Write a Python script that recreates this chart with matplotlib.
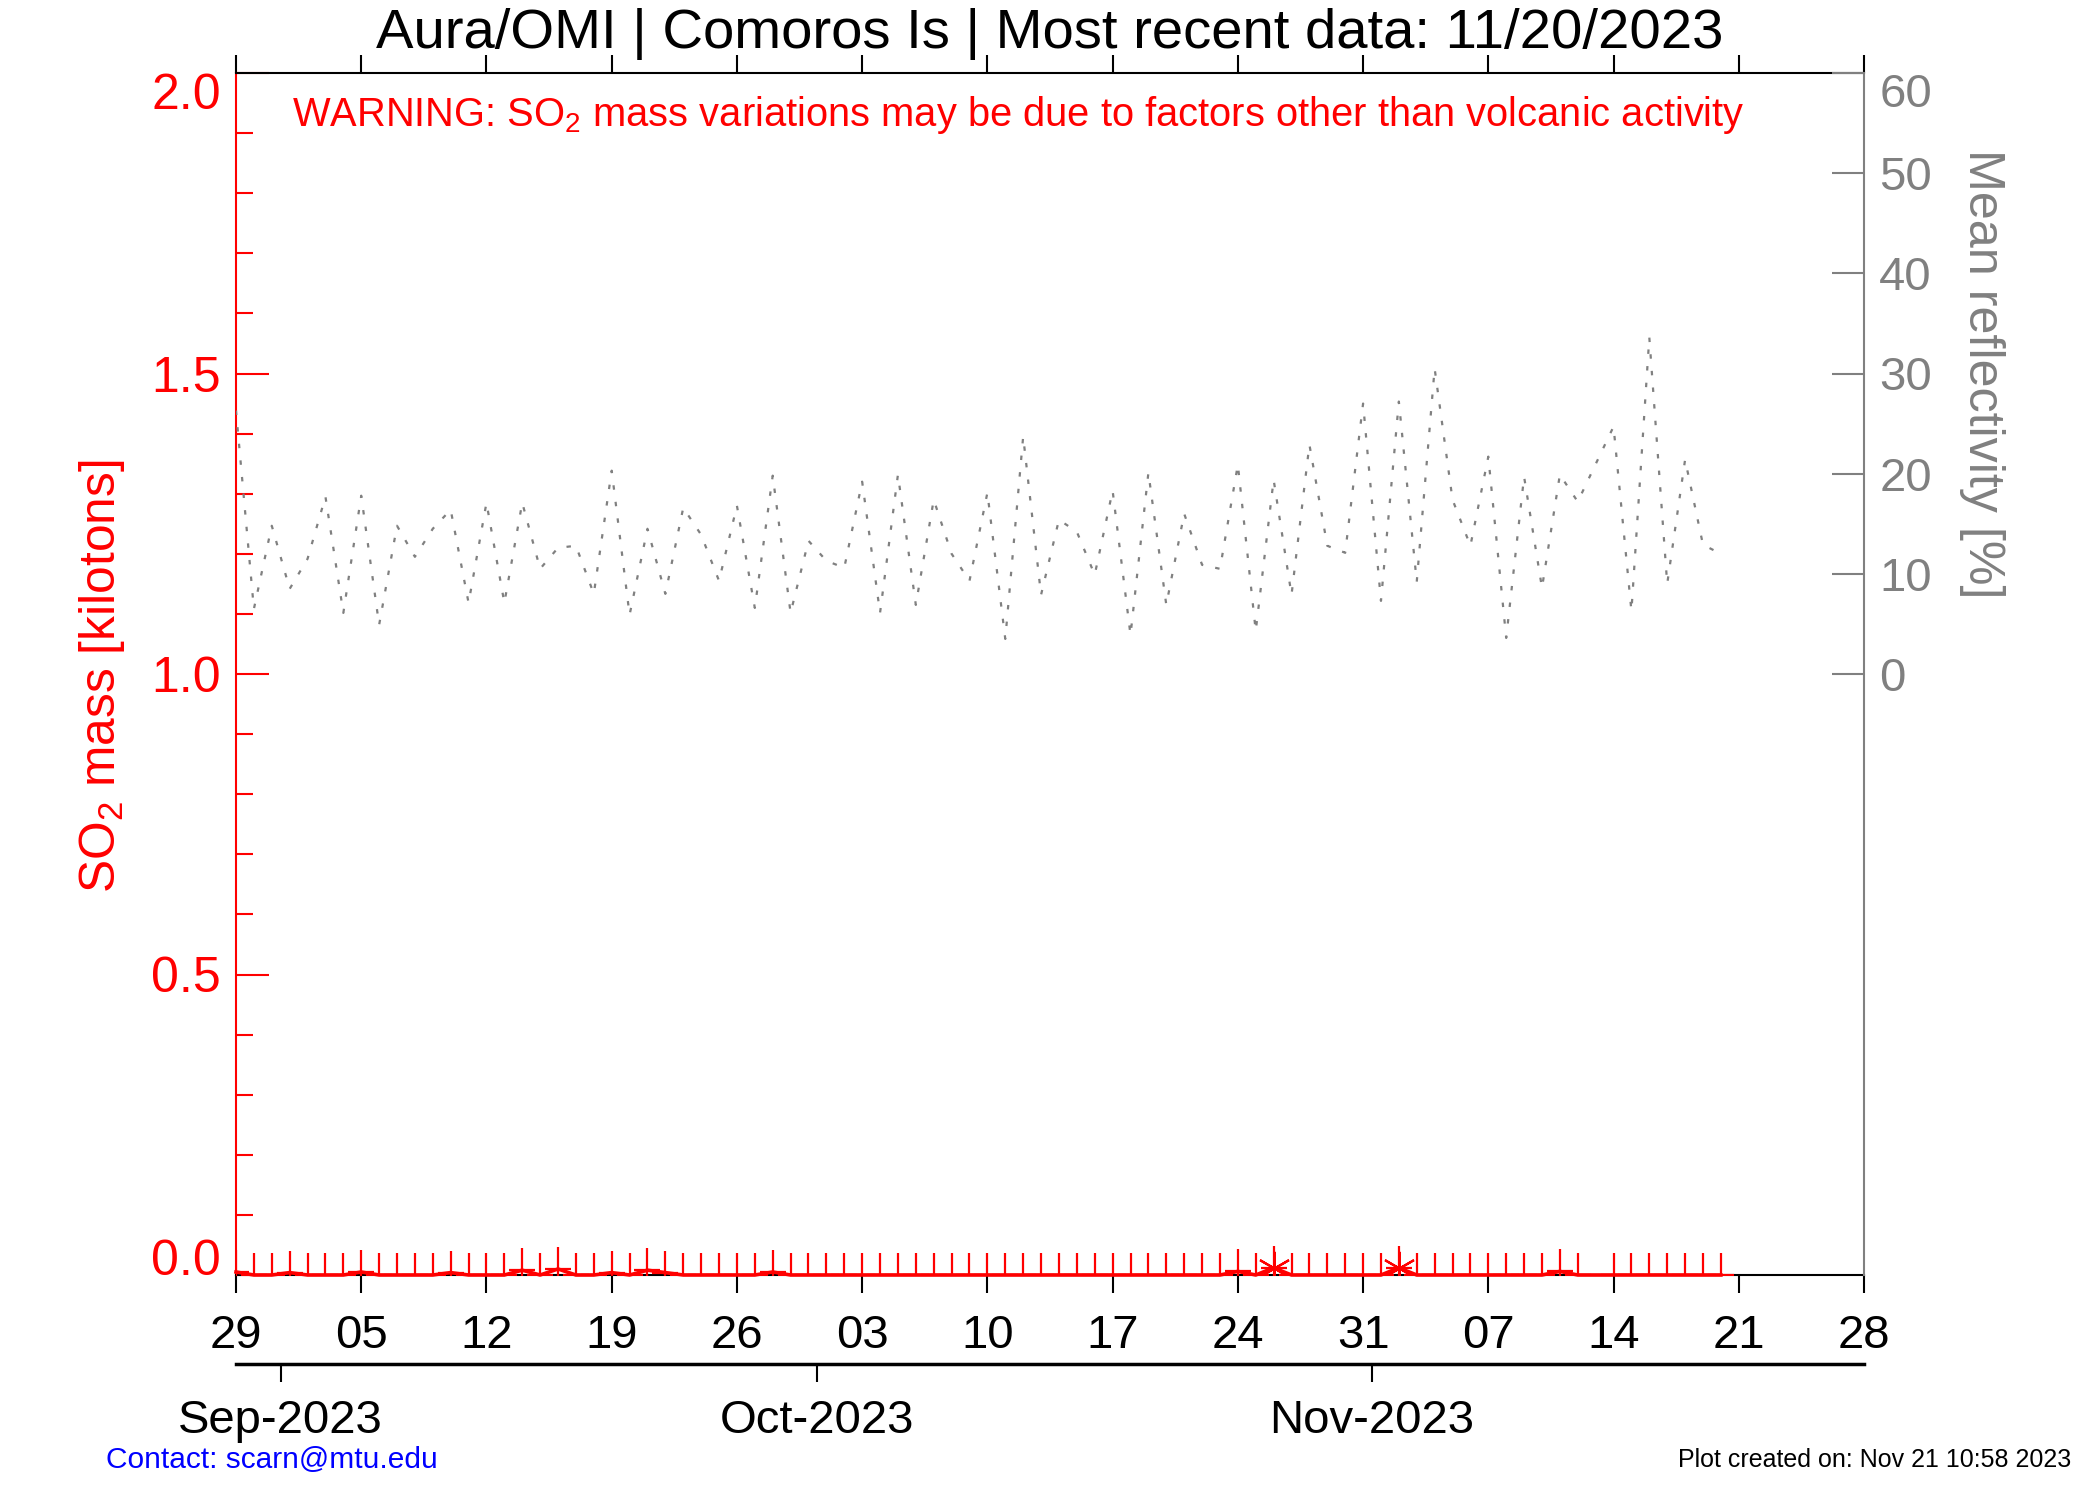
import numpy as np
import matplotlib
matplotlib.use("Agg")
import matplotlib.pyplot as plt
from matplotlib.path import Path
from matplotlib.ticker import MultipleLocator

plt.rcParams["font.family"] = ["Liberation Sans", "DejaVu Sans"]
plt.rcParams["mathtext.default"] = "regular"

# ---- data (one value per day from 2023-08-29, None = no data) ----
start_day = np.datetime64("2023-08-29")
x_range = [np.datetime64("2023-08-29"), np.datetime64("2023-11-28")]

reflectivity = [
    26.3, 6.5, 14.8, 8.5, 11.5, 17.7, 6.1, 17.8, 4.9, 14.8,
    11.7, 14.5, 16.4, 7.1, 17.1, 7.1, 17.1, 10.5, 12.6, 12.8,
    8.0, 20.3, 5.9, 14.5, 8.0, 16.6, 13.9, 9.3, 16.8, 6.6,
    19.8, 6.1, 13.3, 11.3, 10.6, 19.2, 6.1, 19.9, 6.9, 17.4,
    12.0, 9.3, 18.1, 3.5, 23.7, 7.9, 15.4, 14.2, 9.9, 18.3,
    3.9, 20.1, 6.9, 16.0, 10.9, 10.5, 20.9, 4.3, 19.4, 7.9,
    22.9, 12.8, 12.1, 27.0, 7.3, 27.2, 9.2, 30.5, 17.4, 12.8,
    21.7, 3.6, 19.7, 8.6, 19.9, 17.2, None, 24.7, 6.3, 33.6,
    9.0, 21.4, 12.9, 12.0,
]

so2_mass = [
    0.005, 0.0, 0.0, 0.004, 0.0, 0.0, 0.0, 0.005, 0.0, 0.0,
    0.0, 0.0, 0.004, 0.0, 0.0, 0.0, 0.008, 0.0, 0.010, 0.0,
    0.0, 0.004, 0.0, 0.008, 0.004, 0.0, 0.0, 0.0, 0.0, 0.0,
    0.005, 0.0, 0.0, 0.0, 0.0, 0.0, 0.0, 0.0, 0.0, 0.0,
    0.0, 0.0, 0.0, 0.0, 0.0, 0.0, 0.0, 0.0, 0.0, 0.0,
    0.0, 0.0, 0.0, 0.0, 0.0, 0.0, 0.006, 0.0, 0.012, 0.0,
    0.0, 0.0, 0.0, 0.0, 0.0, 0.012, 0.0, 0.0, 0.0, 0.0,
    0.0, 0.0, 0.0, 0.0, 0.006, 0.0, None, 0.0, 0.0, 0.0,
    0.0, 0.0, 0.0, 0.0,
]
asterisk_days = [58, 65]

month_starts = ["2023-09-01", "2023-10-01", "2023-11-01"]
month_labels = ["Sep-2023", "Oct-2023", "Nov-2023"]

# ---- prepare ----
days = start_day + np.arange(len(reflectivity))
refl_ok = [i for i, v in enumerate(reflectivity) if v is not None]
so2_ok = [i for i, v in enumerate(so2_mass) if v is not None]
refl_x = days[refl_ok]
refl_y = np.array([reflectivity[i] for i in refl_ok])
so2_x = days[so2_ok]
so2_y = np.array([so2_mass[i] for i in so2_ok])
ast_x = days[asterisk_days]
ast_y = np.array([so2_mass[i] for i in asterisk_days])

week_ticks = np.arange(x_range[0], x_range[1] + np.timedelta64(1, "D"), 7)
month_ticks = np.array(month_starts, dtype="datetime64[h]") - np.timedelta64(12, "h")

# plus symbol, taller than wide
plus = Path([(-0.6, 0), (0.6, 0), (0, -1), (0, 1)],
            [Path.MOVETO, Path.LINETO, Path.MOVETO, Path.LINETO])

fig = plt.figure(figsize=(21, 15), dpi=100)
ax = fig.add_axes([236 / 2100, 1 - 1275 / 1500, 1628 / 2100, 1202 / 1500])

# SO2 series
ax.plot(so2_x, so2_y, color="red", lw=2.6, zorder=3, clip_on=False)
ax.plot(so2_x, so2_y, ls="none", marker=plus, ms=32, mew=1.6,
        mec="red", mfc="none", zorder=3)
ax.plot(ast_x, ast_y, ls="none", marker=(6, 2, 0), ms=24, mew=1.6,
        mec="red", zorder=3)

ax.set_xlim(x_range)
ax.set_ylim(0, 2.0)
ax.set_xticks(week_ticks)
ax.set_xticklabels([str(d)[-2:] for d in week_ticks], fontsize=34)
ax.tick_params(axis="x", direction="out", length=13, width=1.5, top=True,
               pad=15, colors="black")

ax.yaxis.set_major_locator(MultipleLocator(0.5))
ax.yaxis.set_minor_locator(MultipleLocator(0.1))
ax.yaxis.set_major_formatter(plt.FormatStrFormatter("%.1f"))
ax.tick_params(axis="y", which="major", direction="in", length=24, width=1.5,
               color="red", labelcolor="red", labelsize=36, pad=11)
ax.tick_params(axis="y", which="minor", direction="in", length=12, width=1.5,
               color="red")
ax.spines["left"].set_color("red")
ax.spines["right"].set_visible(False)
for s in ax.spines.values():
    s.set_linewidth(1.5)

# reflectivity on right axis
ax2 = ax.twinx()
ax2.plot(refl_x, refl_y, color="#808080", lw=1.6, ls=(0, (2.0, 5.5)))
ax2.set_ylim(-60, 60)
ax2.set_yticks(np.arange(0, 61, 10))
ax2.tick_params(axis="y", direction="in", length=23, width=1.5,
                color="#808080", labelcolor="#808080", labelsize=34, pad=11)
for name in ["left", "top", "bottom"]:
    ax2.spines[name].set_visible(False)
ax2.spines["right"].set_color("#808080")
ax2.spines["right"].set_linewidth(1.5)

# edge labels sit inside the axis range
for lab in ax.get_yticklabels():
    if lab.get_text() == "2.0":
        lab.set_va("top")
    elif lab.get_text() == "0.0":
        lab.set_va("baseline")
for lab in ax2.get_yticklabels():
    if lab.get_text() == "60":
        lab.set_va("top")

# month axis underneath
axm = fig.add_axes([236 / 2100, 1 - 1364 / 1500, 1628 / 2100, 0.0001])
axm.set_xlim(x_range)
axm.set_yticks([])
for name in ["left", "right", "top"]:
    axm.spines[name].set_visible(False)
axm.spines["bottom"].set_linewidth(2.5)
axm.set_xticks(month_ticks)
axm.set_xticklabels(month_labels, fontsize=34)
axm.tick_params(axis="x", direction="out", length=13, width=1.5, pad=12)

# texts
fig.text(0.5, 1 - 34 / 1500, "Aura/OMI | Comoros Is | Most recent data: 11/20/2023",
         ha="center", va="center", fontsize=40.5)
fig.text(292 / 2100, 1 - 115 / 1500,
         "WARNING: SO$_2$ mass variations may be due to factors other than volcanic activity",
         ha="left", va="center", fontsize=28.7, color="red")
fig.text(102 / 2100, 1 - 676 / 1500, "SO$_2$ mass [kilotons]", rotation=90,
         ha="center", va="center", fontsize=35.7, color="red")
fig.text(1982 / 2100, 1 - 374 / 1500, "Mean reflectivity [%]", rotation=270,
         ha="center", va="center", fontsize=36.2, color="#808080")
fig.text(106 / 2100, 1 - 1460 / 1500, "Contact: scarn@mtu.edu",
         ha="left", va="center", fontsize=21.5, color="blue")
fig.text(2071 / 2100, 1 - 1460 / 1500, "Plot created on: Nov 21 10:58 2023",
         ha="right", va="center", fontsize=18, color="black")

fig.savefig("out.png", dpi=100)
